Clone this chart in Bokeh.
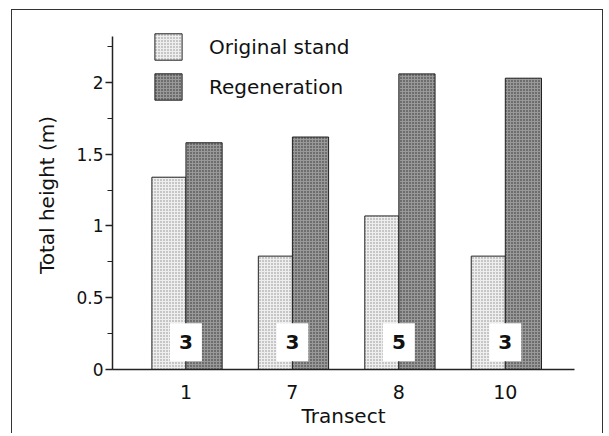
import numpy as np
from bokeh.plotting import figure
from bokeh.models import (Range1d, FixedTicker, SingleIntervalTicker, NumeralTickFormatter,
                          Legend, LegendItem, ColumnDataSource)
from bokeh.transform import dodge
from bokeh.core.properties import value
from bokeh.embed import file_html
from bokeh.resources import INLINE

# ---- data ----
transects = ["1", "7", "8", "10"]
original_stand = [1.34, 0.79, 1.07, 0.79]
regeneration = [1.58, 1.62, 2.06, 2.03]
n_labels = ["3", "3", "5", "3"]
label_y = 0.19

FONT = "DejaVu Sans"
DARK = "#222222"

x = list(range(len(transects)))
src = ColumnDataSource(dict(x=x, orig=original_stand, regen=regeneration, n=n_labels))

p = figure(width=592, height=424, output_backend="svg", toolbar_location=None,
           x_range=Range1d(-0.69, 3.65), y_range=Range1d(0, 2.432),
           min_border_left=100, min_border_right=30, min_border_top=10, min_border_bottom=65)
p.styles = {"border": "1.5px solid #333", "border-bottom": "none",
            "margin-left": "11px", "margin-top": "9px"}
p.background_fill_color = "white"
p.border_fill_color = "white"
p.outline_line_color = None
p.grid.visible = False

r1 = p.vbar(x=dodge("x", -0.16, range=p.x_range), top="orig", width=0.32, source=src,
            fill_color="#eeeeee", line_color=DARK, line_width=1,
            hatch_pattern="dot", hatch_color="#888888", hatch_scale=3, hatch_weight=1)
r2 = p.vbar(x=dodge("x", 0.17, range=p.x_range), top="regen", width=0.34, source=src,
            fill_color="#999999", line_color=DARK, line_width=1,
            hatch_pattern="dot", hatch_color="#2a2a2a", hatch_scale=3, hatch_weight=1.5)

p.text(x="x", y=label_y, text="n", source=src, text_align="center", text_baseline="middle",
       text_font=value(FONT), text_font_size="20px", text_font_style="bold", text_color="#111",
       background_fill_color="white", padding=(9, 12))

legend = Legend(items=[LegendItem(label="Original stand", renderers=[r1]),
                       LegendItem(label="Regeneration", renderers=[r2])],
                location=(39, 266), orientation="vertical",
                glyph_width=34, glyph_height=33, label_height=33, spacing=7,
                label_standoff=24, padding=0, margin=0,
                border_line_color=None, background_fill_alpha=0,
                label_text_font=FONT, label_text_font_size="20px", label_text_color="#111")
p.add_layout(legend)

# x axis
p.xaxis.ticker = FixedTicker(ticks=x)
p.xaxis.major_label_overrides = {i: t for i, t in zip(x, transects)}
p.xaxis.major_label_standoff = 9
p.xaxis.axis_label = "Transect"
p.xaxis.axis_label_standoff = 2

# y axis
p.yaxis.ticker = SingleIntervalTicker(interval=0.5, num_minor_ticks=2)
p.yaxis.formatter = NumeralTickFormatter(format="0.[0]")
p.yaxis.bounds = (0, 2.32)
p.yaxis.major_tick_in = 0
p.yaxis.major_tick_out = 7
p.yaxis.minor_tick_in = 0
p.yaxis.minor_tick_out = 5
p.yaxis.major_label_standoff = 2
p.yaxis.axis_label = "Total height (m)"
p.yaxis.axis_label_standoff = 14

for ax in (p.xaxis[0], p.yaxis[0]):
    ax.axis_line_color = DARK
    ax.axis_line_width = 1.5
    ax.major_tick_line_color = DARK if ax is p.yaxis[0] else None
    ax.minor_tick_line_color = DARK if ax is p.yaxis[0] else None
    ax.major_tick_line_width = 1.5
    ax.minor_tick_line_width = 1.2
    ax.major_label_text_font = FONT
    ax.major_label_text_color = "#111"
    ax.axis_label_text_font = FONT
    ax.axis_label_text_font_style = "normal"
    ax.axis_label_text_font_size = "20px"
    ax.axis_label_text_color = "#111"

p.xaxis.major_label_text_font_size = "19px"
p.yaxis.major_label_text_font_size = "17px"

open("out.html", "w").write(file_html(p, INLINE))
